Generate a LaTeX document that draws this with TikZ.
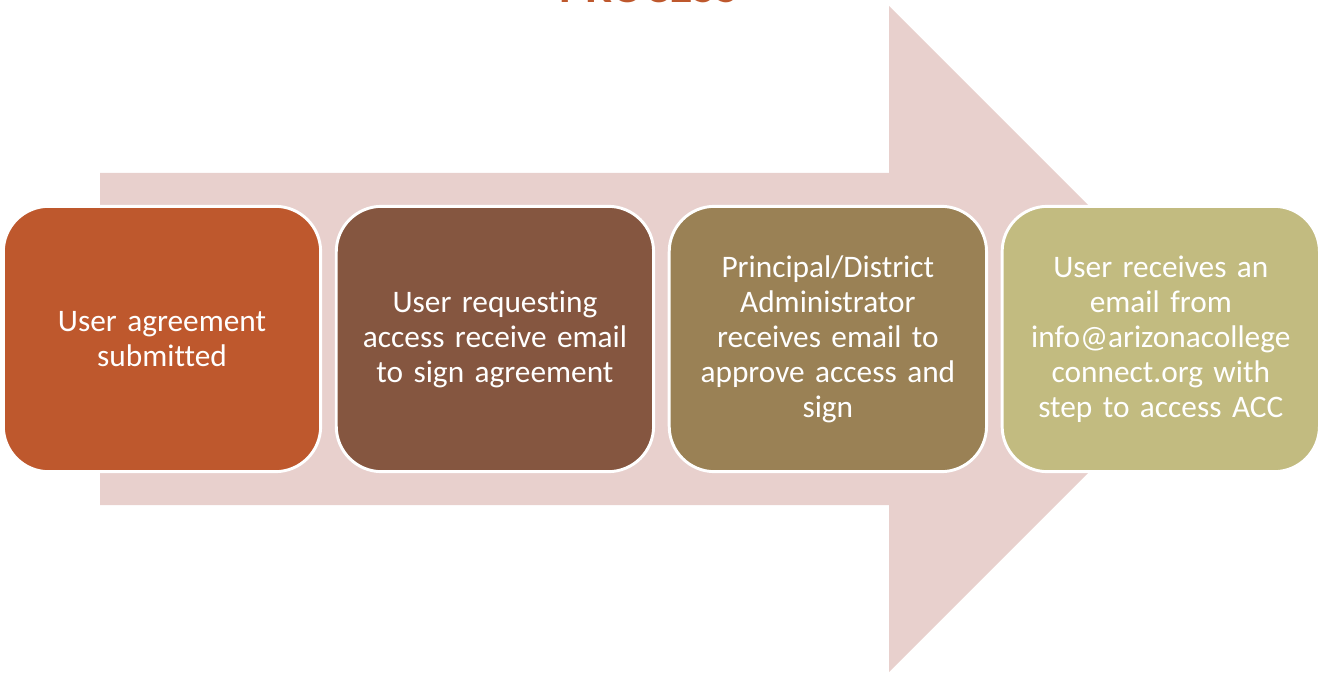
\documentclass[tikz,border=0pt]{standalone}
\usepackage{fontspec}
\setmainfont{Carlito}[RawFeature=-liga]
\usetikzlibrary{positioning}
\definecolor{arrowpink}{RGB}{232,208,205}
\definecolor{stepone}{RGB}{190,88,45}
\definecolor{steptwo}{RGB}{133,86,64}
\definecolor{stepthree}{RGB}{154,129,85}
\definecolor{stepfour}{RGB}{194,187,128}
\tikzset{
  stepcard/.style={draw=white, line width=2.2pt, rounded corners=34pt,
    minimum width=238pt, minimum height=199pt, text width=230pt, align=center,
    text=white, font=\fontsize{23.5}{26.3}\selectfont, inner sep=0pt},
}
\begin{document}
\begin{tikzpicture}[x=0.75pt,y=-0.75pt]
	\useasboundingbox (0,0) rectangle (1319,673);
	% Background arrow
	\fill[arrowpink] (100,173) -- (889,173) -- (889,6) -- (1222,339) -- (889,672) -- (889,505) -- (100,505) -- cycle;
	% Title, cut off at the top
	\node[anchor=base, text=stepone, font=\fontsize{36}{40}\selectfont\bfseries] (title) at (649,3) {PROCESS};
	% Steps
	\node[stepcard, fill=stepone] (agree) at (162,339) {User agreement\\submitted};
	\node[stepcard, fill=steptwo, right=9.5pt of agree] (request) {User requesting\\access receive email\\to sign agreement};
	\node[stepcard, fill=stepthree, right=9.5pt of request] (approve) {Principal/District\\Administrator\\receives email to\\approve access and\\sign};
	\node[stepcard, fill=stepfour, right=9.5pt of approve] (access) {User receives an\\email from\\info@arizonacollege\\connect.org with\\step to access ACC};
\end{tikzpicture}
\end{document}
